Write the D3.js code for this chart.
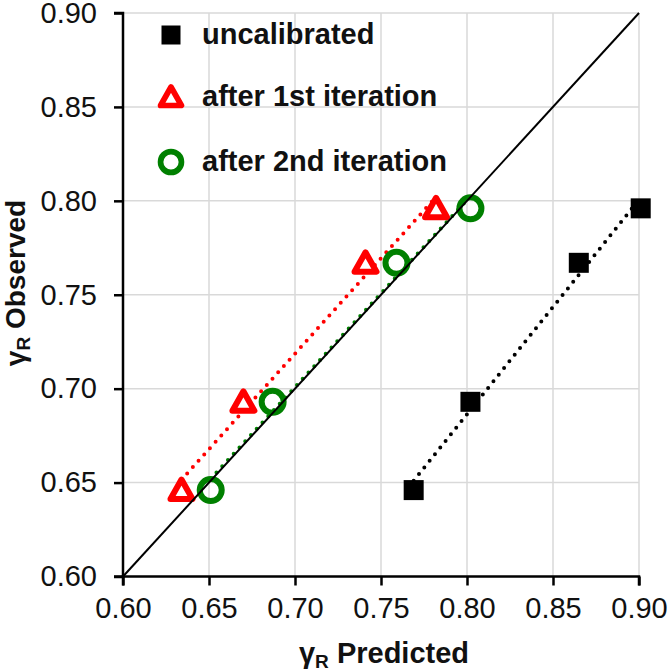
<!DOCTYPE html>
<html><head><meta charset="utf-8">
<script src="https://cdn.jsdelivr.net/npm/d3@7"></script>
<style>body{margin:0;background:#fff}svg{display:block}</style>
</head><body>
<svg id="c" width="669" height="672"></svg>
<script>
const ticks = [0.60,0.65,0.70,0.75,0.80,0.85,0.90];
const observed = [0.646,0.693,0.767,0.796];
const predUncal = [0.769,0.802,0.865,0.901];
const predIter1 = [0.634,0.670,0.741,0.782];
const predIter2 = [0.651,0.687,0.759,0.802];
const seriesNames = ["uncalibrated","after 1st iteration","after 2nd iteration"];

const svg = d3.select("#c");
const font = "'Liberation Sans', Arial, sans-serif";
const x = d3.scaleLinear().domain([0.6,0.9]).range([123,639]);
const y = d3.scaleLinear().domain([0.6,0.9]).range([576.5,13]);

// grid
const g = svg.append("g");
g.selectAll(".vx").data(ticks.slice(1)).enter().append("line")
 .attr("x1",d=>x(d)).attr("x2",d=>x(d)).attr("y1",y(0.9)).attr("y2",y(0.6))
 .attr("stroke","#d9d9d9").attr("stroke-width",1.5);
g.selectAll(".hy").data(ticks.slice(1)).enter().append("line")
 .attr("y1",d=>y(d)).attr("y2",d=>y(d)).attr("x1",x(0.6)).attr("x2",x(0.9))
 .attr("stroke","#d9d9d9").attr("stroke-width",1.5);

const series = [
 {name:seriesNames[0], px:predUncal, color:"#000", shape:"square"},
 {name:seriesNames[1], px:predIter1, color:"#ff0000", shape:"triangle"},
 {name:seriesNames[2], px:predIter2, color:"#008000", shape:"circle"}
];

// linear trendlines (least squares), spanning the data's x range
function fit(xs, ys){
  const mx=d3.mean(xs), my=d3.mean(ys);
  const sxy=d3.sum(xs,(v,i)=>(v-mx)*(ys[i]-my));
  const sxx=d3.sum(xs,v=>(v-mx)*(v-mx));
  const b=sxy/sxx, a=my-b*mx;
  return v=>a+b*v;
}
const line = d3.line().x(d=>x(d[0])).y(d=>y(d[1]));
series.forEach(s=>{
  const f = fit(s.px, observed);
  const ext = d3.extent(s.px);
  svg.append("path").attr("d",line(ext.map(v=>[v,f(v)]))).attr("fill","none")
   .attr("stroke", s.color).attr("stroke-width",4)
   .attr("stroke-dasharray","0,8.5").attr("stroke-linecap","round");
});

function marker(sel, shape, color, cx, cy, k){
  k = k||1;
  if(shape==="square"){
    const s=20*k;
    sel.append("rect").attr("x",cx-s/2).attr("y",cy-s/2).attr("width",s).attr("height",s).attr("fill",color);
  } else if(shape==="triangle"){
    const h=10.5*k, w=11*k;
    sel.append("path").attr("d",`M${cx},${cy-h}L${cx+w},${cy+h*0.85}L${cx-w},${cy+h*0.85}Z`)
     .attr("fill","#fff").attr("stroke",color).attr("stroke-width",6*k).attr("stroke-linejoin","round");
  } else {
    sel.append("circle").attr("cx",cx).attr("cy",cy).attr("r",11*k)
     .attr("fill","none").attr("stroke",color).attr("stroke-width",6*k);
  }
}
series.forEach(s=>{
  const gg = svg.append("g");
  s.px.forEach((v,i)=>marker(gg,s.shape,s.color,x(v),y(observed[i])));
});

// diagonal
svg.append("line").attr("x1",x(0.6)).attr("y1",y(0.6)).attr("x2",x(0.9)).attr("y2",y(0.9))
 .attr("stroke","#000").attr("stroke-width",2);

// axes
const xa = svg.append("g").attr("transform",`translate(0,${y(0.6)})`)
 .call(d3.axisBottom(x).tickValues(ticks).tickFormat(d3.format(".2f")).tickSize(9).tickPadding(12));
const ya = svg.append("g").attr("transform",`translate(${x(0.6)},0)`)
 .call(d3.axisLeft(y).tickValues(ticks).tickFormat(d3.format(".2f")).tickSize(9).tickPadding(17));
[xa,ya].forEach(a=>{
  a.select(".domain").attr("stroke","#000").attr("stroke-width",2.5);
  a.selectAll(".tick line").attr("stroke","#000").attr("stroke-width",2.5);
  a.selectAll("text").attr("font-family",font).attr("font-size",29).attr("fill","#111");
});
ya.select(".domain").attr("d",`M-9,${y(0.9)}H0V${y(0.6)}H-9`);
xa.select(".domain").attr("d",`M${x(0.6)},9V0H${x(0.9)}V9`);

// axis titles
const xt = svg.append("text").attr("x",384).attr("y",663).attr("text-anchor","middle")
 .attr("font-family",font).attr("font-size",29).attr("font-weight","bold").attr("fill","#111");
xt.append("tspan").text("γ");
xt.append("tspan").attr("font-size",19).attr("dy",5).text("R");
xt.append("tspan").attr("dy",-5).text(" Predicted");

const yt = svg.append("text").attr("transform","translate(25,283) rotate(-90)").attr("text-anchor","middle")
 .attr("font-family",font).attr("font-size",28).attr("font-weight","bold").attr("fill","#111");
yt.append("tspan").text("γ");
yt.append("tspan").attr("font-size",19).attr("dy",5).text("R");
yt.append("tspan").attr("dy",-5).text(" Observed");

// legend
const legY = [35,97,162];
const leg = svg.append("g");
series.forEach((s,i)=>{
  marker(leg,s.shape,s.color,171,legY[i],0.95);
  leg.append("text").attr("x",202).attr("y",legY[i]+9).text(s.name)
   .attr("font-family",font).attr("font-size",29).attr("font-weight","bold").attr("fill","#111");
});
</script>
</body></html>
